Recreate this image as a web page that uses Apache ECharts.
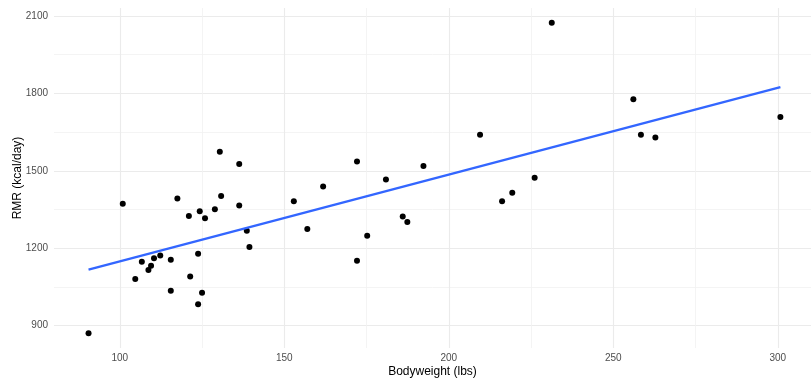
<!DOCTYPE html>
<html>
<head>
<meta charset="utf-8">
<script src="https://cdn.jsdelivr.net/npm/echarts@6/dist/echarts.min.js"></script>
<style>
html,body{margin:0;padding:0;background:#fff;}
#chart{width:811px;height:379px;}
</style>
</head>
<body>
<div id="chart"></div>
<script>
// Bodyweight (lbs)
var bodyweight = [136.3, 100.9, 117.5, 130.8, 136.3, 152.9, 121.0, 124.3, 125.9, 128.9,
  138.6, 157.0, 139.4, 123.8, 106.7, 110.4, 112.3, 115.5, 109.5, 108.7,
  104.7, 121.4, 115.5, 125.0, 123.8, 90.5, 130.4, 209.5, 172.1, 192.3,
  161.8, 180.9, 226.1, 216.2, 219.3, 186.0, 187.4, 175.2, 172.1, 231.3,
  256.1, 258.4, 262.8, 300.8];
// RMR (kcal/day)
var rmr = [1526, 1372, 1393, 1402, 1365, 1382, 1325, 1343, 1316, 1351,
  1268, 1274, 1205, 1178, 1147, 1161, 1172, 1155, 1132, 1115,
  1080, 1090, 1035, 1027, 983, 870, 1574, 1640, 1536, 1519,
  1439, 1466, 1473, 1382, 1415, 1323, 1301, 1248, 1151, 2074,
  1777, 1640, 1629, 1708];
// fitted linear trend
var fitX = [90.5, 300.8];
var fitY = [1117, 1824];
// tick labels
var xMajor = [100, 150, 200, 250, 300];
var xMinor = [125, 175, 225, 275];
var yMajor = [900, 1200, 1500, 1800, 2100];
var yMinor = [1050, 1350, 1650, 1950];

var FONT = '"Liberation Sans", Arial, sans-serif';
var pts = bodyweight.map(function (x, i) { return [x, rmr[i]]; });
var fit = fitX.map(function (x, i) { return [x, fitY[i]]; });
var plain = function (v) { return String(v); };

var chart = echarts.init(document.getElementById('chart'), null, {renderer: 'canvas'});
var xr = {min: 80, max: 310.1};
var yr = {min: 813, max: 2131};
chart.setOption({
  animation: false,
  backgroundColor: '#ffffff',
  grid: {left: 54, right: 0, top: 8, bottom: 31, containLabel: false, outerBoundsMode: 'none'},
  xAxis: [{
    type: 'value', min: xr.min, max: xr.max,
    name: 'Bodyweight (lbs)', nameLocation: 'middle', nameGap: 18, nameMoveOverlap: false,
    nameTextStyle: {color: '#000', fontSize: 12, fontFamily: FONT},
    axisLine: {show: false},
    axisTick: {show: false, customValues: xMajor},
    axisLabel: {customValues: xMajor, formatter: plain, color: '#4d4d4d', fontSize: 10, fontFamily: FONT, margin: 5},
    splitLine: {show: true, lineStyle: {color: '#ebebeb', width: 1.1}}
  }, {
    type: 'value', min: xr.min, max: xr.max, position: 'bottom',
    axisLine: {show: false},
    axisTick: {show: false, customValues: xMinor},
    axisLabel: {show: false, customValues: xMinor},
    splitLine: {show: true, lineStyle: {color: '#f1f1f1', width: 0.8}}
  }],
  yAxis: [{
    type: 'value', min: yr.min, max: yr.max,
    name: 'RMR (kcal/day)', nameLocation: 'middle', nameGap: 30, nameRotate: 90, nameMoveOverlap: false,
    nameTextStyle: {color: '#000', fontSize: 12, fontFamily: FONT},
    axisLine: {show: false},
    axisTick: {show: false, customValues: yMajor},
    axisLabel: {customValues: yMajor, formatter: plain, color: '#4d4d4d', fontSize: 10, fontFamily: FONT, margin: 6},
    splitLine: {show: true, lineStyle: {color: '#ebebeb', width: 1.1}}
  }, {
    type: 'value', min: yr.min, max: yr.max, position: 'left',
    axisLine: {show: false},
    axisTick: {show: false, customValues: yMinor},
    axisLabel: {show: false, customValues: yMinor},
    splitLine: {show: true, lineStyle: {color: '#f1f1f1', width: 0.8}}
  }],
  series: [{
    type: 'scatter', data: pts, xAxisIndex: 0, yAxisIndex: 0,
    symbol: 'circle', symbolSize: 6,
    itemStyle: {color: '#000000', opacity: 1}, z: 3
  }, {
    type: 'line', data: fit, xAxisIndex: 0, yAxisIndex: 0,
    showSymbol: false, symbol: 'none',
    lineStyle: {color: '#3366ff', width: 2.3}, z: 4
  }]
});
</script>
</body>
</html>
